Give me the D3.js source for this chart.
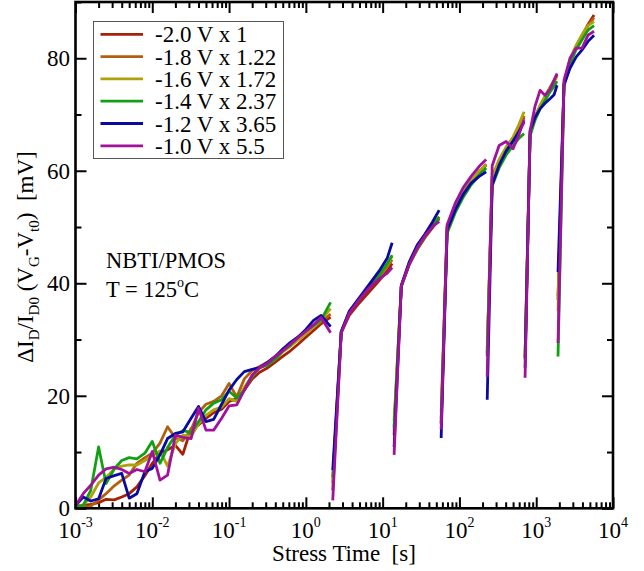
<!DOCTYPE html>
<html><head><meta charset="utf-8">
<script src="https://cdn.jsdelivr.net/npm/d3@7/dist/d3.min.js"></script>
<style>
body{margin:0;background:#fff}
text{font-family:"Liberation Serif","Times New Roman",serif;fill:#000}
</style>
</head><body>
<svg id="chart" width="644" height="571"></svg>
<script>
// ---------- DATA ----------
const seriesLabels = ["-2.0 V x 1","-1.8 V x 1.22","-1.6 V x 1.72","-1.4 V x 2.37","-1.2 V x 3.65","-1.0 V x 5.5"];
const seriesColors = ["#a32208","#b0600e","#aea20c","#12a012","#0a0aa0","#a0129c"];

// stress times [s] for each measurement segment (first point of segments 2..7 is the recovered value)
const t1 = [0.001,0.00126,0.00158,0.002,0.0025,0.0032,0.004,0.005,0.0063,0.008,0.01,0.0126,0.0158,0.02,0.025,0.032,0.04,0.05,0.063,0.08,0.1,0.126,0.158,0.2,0.25,0.32,0.4,0.5,0.63,0.8,1.0,1.26,1.58,2.1];
const t2 = [2.24,2.89,3.67,4.96,6.69,9.02,11.5,13.3];
const t3 = [14.1,17.5,22.2,28.2,35.8,44.2,54.5];
const t4 = [57.8,69.2,87.9,112,142,181,223];
const t5 = [230,267,329,405,500,598,695];
const t6 = [716,832,966,1122,1303,1513,1707,1867];
const t7 = [1923,2301,2754,3302,3953,4731,5662];
const segmentTimes = [t1,t2,t3,t4,t5,t6,t7];

// scaled ΔID/ID0 (VG-Vt0) [mV], one array per segment
const v20 = [
  [0.3,0.5,0.7,1.0,1.6,1.5,2.0,2.6,3.8,5.8,8.0,9.8,10.4,11.2,9.6,14.2,14.8,16.0,17.0,17.6,19.0,19.5,21.0,23.0,24.2,25.0,26.0,27.0,28.0,29.2,30.4,31.6,32.8,34.0],
  [3.2,31.2,34.3,36.5,38.5,40.5,42.2,43.5],
  [13,39.5,43.3,46,48.2,49.8,51.5],
  [15,50,53.5,56,58,59.5,61],
  [27,58.5,61.5,63.8,65.5,67.5,69.5],
  [26.5,66.5,69.5,71.5,73,74.5,75.8,77],
  [37,75.5,79.5,82,84,86,87.7]
];
const v18 = [
  [0.0,0.2,0.4,1.5,2.6,4.0,5.0,5.9,8.0,9.0,9.8,11.6,14.5,12.5,12.0,14.0,17.0,18.5,19.0,20.0,22.2,19.8,23.0,24.5,25.2,26.0,27.0,28.0,29.0,30.0,31.2,32.2,33.2,34.5],
  [4.5,31.4,34.8,37.2,39.2,41.2,43.0,44.2],
  [14,39.5,43.5,46.3,48.5,50.2,51.8],
  [16,50,53.7,56.2,58.2,59.8,61.2],
  [27.5,58.8,61.8,64,65.8,67.8,69.8],
  [26.8,66.5,69.5,71.5,73.2,74.8,76,77],
  [37.7,75.5,79.5,82,84,85.8,87.2]
];
const v16 = [
  [0.3,0.6,2.0,4.5,5.5,7.0,7.5,7.7,7.7,8.5,9.4,10.2,7.5,11.5,13.0,12.8,15.0,16.5,17.5,18.0,19.5,19.0,21.5,23.5,25.0,25.6,26.5,27.8,28.8,30.0,31.0,32.2,33.5,35.5],
  [5,31.4,35,37.3,39.4,41.5,43.3,44.8],
  [15.5,39.6,43.6,46.4,48.6,50.3,51.7],
  [17,50.2,53.8,56.3,58.3,60,61],
  [28.5,59,62,64.2,66,68.3,70.5],
  [27,66.6,69.6,71.6,73.2,74.8,76,76.8],
  [35,75.5,79.8,82.3,84.2,85.8,86.5]
];
const v14 = [
  [0.3,0.5,3.2,10.9,4.4,7.0,8.5,9.0,8.8,9.8,11.9,8.0,10.8,13.0,13.8,13.5,15.4,17.5,18.7,19.3,20.8,19.6,21.0,23.5,25.0,25.5,26.5,28.0,29.0,30.5,31.5,32.5,33.5,36.6],
  [5.5,31.4,34.8,37.1,39.3,41.4,43.5,45],
  [14.5,39.4,43.4,46.2,48.4,50.1,51.8],
  [15.2,48.9,52.5,55.3,57.5,59.2,60.5],
  [27.7,57.3,60.5,62.8,64.5,65.8,66.6],
  [26.8,66.2,69,71,72.5,74,75,75.9],
  [27,75.3,79,81.5,83.3,85,85.8]
];
const v12 = [
  [0.5,2.0,1.3,1.7,5.3,5.8,6.2,1.8,2.6,6.5,7.1,9.5,12.4,13.3,13.6,16.0,18.1,15.4,15.8,18.5,21.0,22.9,24.3,24.7,25.0,26.0,27.0,28.3,29.5,30.5,31.8,33.4,34.3,32.3],
  [6.8,31.4,35,37.4,39.8,42.2,44.5,47.2],
  [10.9,39.6,43.8,46.8,48.8,50.8,53],
  [12.5,49.5,53,55.8,57.8,59,59.8],
  [19.3,57.5,61,63.5,65.3,67,68.7],
  [25,67.1,69.5,71,72,72.8,73.5,75.2],
  [42,75.2,78.2,80.2,81.5,83,84.1]
];
const v10 = [
  [0.5,2.6,4.1,5.9,7.0,7.3,6.9,6.2,6.9,6.5,10.1,5.0,5.9,13.0,12.6,12.4,17.8,13.9,13.9,16.0,18.2,18.4,21.0,23.7,25.0,25.8,27.0,28.0,29.2,30.4,31.5,32.6,33.9,31.2],
  [1.4,31.2,34.7,37.1,39.2,40.8,41.8,42.8],
  [9.5,39.5,43.4,46.3,48.5,50.0,51.0],
  [14,50.4,54.2,57,59,60.8,62],
  [23.4,60.9,64.5,65.2,63.9,66.5,69],
  [23.2,67.1,71.5,74.3,73.4,74.5,76.1,77.3],
  [29.4,76.1,80,81.8,81.8,84.1,84.8]
];
const seriesValues = [v20,v18,v16,v14,v12,v10];

const xTickExponents = [-3,-2,-1,0,1,2,3,4];
const yTickLabels = [0,20,40,60,80];
const yMinorTicks = [10,30,50,70,90];

// ---------- CHART ----------
const svg = d3.select("#chart");
svg.append("rect").attr("width",644).attr("height",571).attr("fill","#fff");

const L = 75.5, R = 613, T = 2, B = 508.3;
const x = d3.scaleLog().domain([1e-3,1e4]).range([L,R]);
const y = d3.scaleLinear().domain([0,90]).range([B,T]);

const xMajor = xTickExponents.map(e => Math.pow(10,e));
const xMinor = [];
for (let e=-3;e<4;e++) for (let m=2;m<=9;m++) xMinor.push(m*Math.pow(10,e));

function styleAxis(g){
  g.select(".domain").remove();
  g.selectAll(".tick line").attr("stroke","#000").attr("stroke-width",2);
  g.selectAll(".tick text").remove();
}
// bottom & top
svg.append("g").attr("transform",`translate(0,${B})`)
  .call(d3.axisBottom(x).tickValues(xMajor).tickSize(-11).tickSizeOuter(0)).call(styleAxis);
svg.append("g").attr("transform",`translate(0,${B})`)
  .call(d3.axisBottom(x).tickValues(xMinor).tickSize(-6).tickSizeOuter(0)).call(styleAxis);
svg.append("g").attr("transform",`translate(0,${T})`)
  .call(d3.axisTop(x).tickValues(xMajor).tickSize(-11).tickSizeOuter(0)).call(styleAxis);
svg.append("g").attr("transform",`translate(0,${T})`)
  .call(d3.axisTop(x).tickValues(xMinor).tickSize(-6).tickSizeOuter(0)).call(styleAxis);
// left & right
svg.append("g").attr("transform",`translate(${L},0)`)
  .call(d3.axisLeft(y).tickValues(yTickLabels).tickSize(-11).tickSizeOuter(0)).call(styleAxis);
svg.append("g").attr("transform",`translate(${L},0)`)
  .call(d3.axisLeft(y).tickValues(yMinorTicks).tickSize(-6).tickSizeOuter(0)).call(styleAxis);
svg.append("g").attr("transform",`translate(${R},0)`)
  .call(d3.axisRight(y).tickValues(yTickLabels).tickSize(-11).tickSizeOuter(0)).call(styleAxis);
svg.append("g").attr("transform",`translate(${R},0)`)
  .call(d3.axisRight(y).tickValues(yMinorTicks).tickSize(-6).tickSizeOuter(0)).call(styleAxis);

// x tick labels with superscripts
const xl = svg.append("g");
xTickExponents.forEach(e => {
  const t = xl.append("text").attr("x",x(Math.pow(10,e))).attr("y",538)
    .attr("text-anchor","middle").attr("font-size",23);
  t.append("tspan").text("10");
  t.append("tspan").attr("font-size",14).attr("dy",-11).text(e);
});
// y tick labels
svg.append("g").selectAll("text").data(yTickLabels).join("text")
  .attr("x",70).attr("y",d => y(d)+8).attr("text-anchor","end")
  .attr("font-size",23).text(d => d);

// data lines
const line = d3.line().x(d => x(d[0])).y(d => y(d[1]));
const lines = svg.append("g").attr("fill","none");
seriesValues.forEach((segs,si) => {
  segs.forEach((vals,k) => {
    const pts = vals.map((v,i) => [segmentTimes[k][i], v]);
    lines.append("path").attr("d",line(pts))
      .attr("stroke",seriesColors[si]).attr("stroke-width",2.8)
      .attr("stroke-linejoin","round").attr("stroke-linecap","butt");
  });
});

// frame
svg.append("rect").attr("x",L).attr("y",T).attr("width",R-L).attr("height",B-T)
  .attr("fill","none").attr("stroke","#000").attr("stroke-width",2.6);

// legend
const lg = svg.append("g");
lg.append("rect").attr("x",93.5).attr("y",21.5).attr("width",190).attr("height",137)
  .attr("fill","#fff").attr("stroke","#555").attr("stroke-width",1);
seriesLabels.forEach((lab,i) => {
  const ry = 34.3 + i*22.3;
  lg.append("line").attr("x1",100.5).attr("x2",143).attr("y1",ry).attr("y2",ry)
    .attr("stroke",seriesColors[i]).attr("stroke-width",2.8);
  lg.append("text").attr("x",155).attr("y",ry+8).attr("font-size",23).text(lab);
});

// annotation
svg.append("text").attr("x",106).attr("y",268).attr("font-size",22.5).text("NBTI/PMOS");
const ann = svg.append("text").attr("x",106).attr("y",297).attr("font-size",22.5);
ann.append("tspan").text("T = 125");
ann.append("tspan").attr("font-size",14).attr("dy",-10).text("o");
ann.append("tspan").attr("dy",10).text("C");

// axis titles
svg.append("text").attr("x",344).attr("y",561).attr("text-anchor","middle")
  .attr("font-size",23).style("white-space","pre").text("Stress Time  [s]");
const yt = svg.append("text").attr("transform","translate(33,257) rotate(-90)")
  .attr("text-anchor","middle").attr("font-size",23).style("white-space","pre");
const parts = [["ΔI",0],["D",1],["/I",0],["D0",1],[" (V",0],["G",1],["-V",0],["t0",1],[")  [mV]",0]];
let sub = false;
parts.forEach(([s,isSub]) => {
  const sp = yt.append("tspan").text(s);
  if (isSub && !sub) { sp.attr("font-size",15).attr("dy",6); sub = true; }
  else if (isSub && sub) { sp.attr("font-size",15); }
  else if (!isSub && sub) { sp.attr("dy",-6); sub = false; }
});
</script>
</body></html>
